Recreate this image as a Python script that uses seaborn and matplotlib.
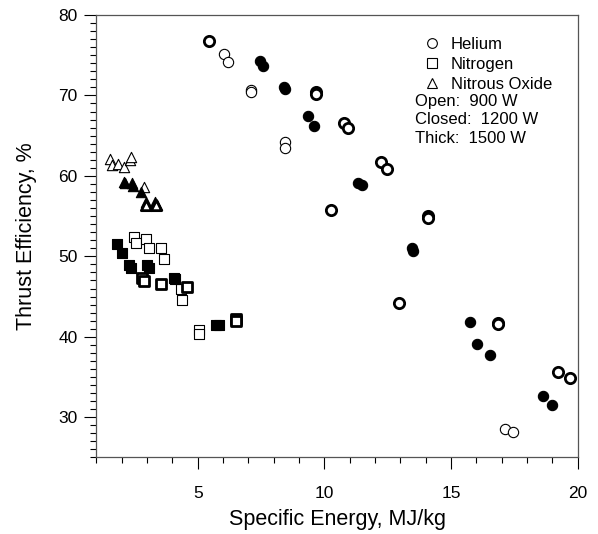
import matplotlib
matplotlib.use('Agg')

import matplotlib.pyplot as plt
from matplotlib.lines import Line2D
from matplotlib.ticker import MultipleLocator
import seaborn as sns

# ---- data: (specific energy MJ/kg, thrust efficiency %) ----
# Helium
he_900_x = [6.05, 6.19, 7.09, 7.09, 8.46, 8.46, 17.13, 17.45]
he_900_y = [75.2, 74.1, 70.7, 70.4, 64.2, 63.5, 28.6, 28.2]
he_1200_x = [7.44, 7.56, 8.42, 8.44, 9.36, 9.60, 11.32, 11.47, 13.46, 13.48,
             15.75, 16.04, 16.52, 18.63, 18.98]
he_1200_y = [74.3, 73.6, 71.1, 70.8, 67.4, 66.2, 59.1, 58.9, 51.0, 50.7,
             41.8, 39.1, 37.7, 32.7, 31.5]
he_1500_x = [5.45, 9.66, 9.68, 10.78, 10.93, 10.28, 12.25, 12.46, 14.09, 14.10,
             12.94, 16.85, 16.87, 19.21, 19.71]
he_1500_y = [76.8, 70.4, 70.2, 66.6, 66.0, 55.7, 61.7, 60.9, 55.0, 54.8,
             44.2, 41.7, 41.6, 35.6, 34.9]

# Nitrogen
n2_900_x = [2.50, 2.58, 2.97, 3.08, 3.57, 3.65, 4.34, 4.37, 5.05, 5.06]
n2_900_y = [52.4, 51.6, 52.1, 51.0, 51.0, 49.7, 45.9, 44.6, 40.8, 40.4]
n2_1200_x = [1.80, 2.00, 2.29, 2.36, 3.00, 3.07, 4.06, 4.12, 5.72, 5.84]
n2_1200_y = [51.5, 50.4, 48.9, 48.5, 48.9, 48.5, 47.3, 47.2, 41.5, 41.5]
n2_1500_x = [2.82, 2.87, 3.57, 4.57, 6.50, 6.52]
n2_1500_y = [47.3, 46.9, 46.6, 46.2, 42.2, 42.0]

# Nitrous oxide
n2o_900_x = [1.54, 1.62, 1.84, 2.09, 2.31, 2.37, 2.87]
n2o_900_y = [62.1, 61.4, 61.5, 61.1, 62.0, 62.4, 58.6]
n2o_1200_x = [2.09, 2.14, 2.39, 2.43, 2.78, 2.96, 3.33, 3.40]
n2o_1200_y = [59.3, 59.1, 59.1, 58.8, 58.0, 56.8, 56.8, 56.4]
n2o_1500_x = [2.96, 3.36]
n2o_1500_y = [56.4, 56.4]

sns.set_style('ticks')
plt.rcParams['font.family'] = ['Liberation Sans', 'DejaVu Sans']
plt.rcParams['text.color'] = 'black'
plt.rcParams['axes.labelcolor'] = 'black'
plt.rcParams['xtick.color'] = 'black'
plt.rcParams['ytick.color'] = 'black'

fig = plt.figure(figsize=(5.98, 5.34), dpi=100)
ax = fig.add_axes([0.1612, 0.1433, 0.8048, 0.8286])

groups = [
    (he_900_x, he_900_y, 'o', 'white', 0.8),
    (he_1200_x, he_1200_y, 'o', 'black', 0.8),
    (he_1500_x, he_1500_y, 'o', 'white', 2.0),
    (n2_900_x, n2_900_y, 's', 'white', 0.8),
    (n2_1200_x, n2_1200_y, 's', 'black', 0.8),
    (n2_1500_x, n2_1500_y, 's', 'white', 2.0),
    (n2o_900_x, n2o_900_y, '^', 'white', 0.8),
    (n2o_1200_x, n2o_1200_y, '^', 'black', 0.8),
    (n2o_1500_x, n2o_1500_y, '^', 'white', 2.0),
]
for gx, gy, mk, fc, lw in groups:
    sns.scatterplot(x=gx, y=gy, marker=mk, s=55, facecolor=fc,
                    edgecolor='black', linewidth=lw, ax=ax, zorder=3)

ax.set_xlim(1, 20)
ax.set_ylim(25, 80)
ax.xaxis.set_major_locator(MultipleLocator(5))
ax.xaxis.set_minor_locator(MultipleLocator(1))
ax.yaxis.set_major_locator(MultipleLocator(10))
ax.yaxis.set_minor_locator(MultipleLocator(1))
ax.tick_params(which='major', direction='out', length=8.6, width=0.8,
               labelsize=12.5, color='black', labelcolor='black')
ax.tick_params(which='minor', direction='out', length=4.3, width=0.8, color='black')
ax.tick_params(axis='x', which='major', pad=12)
ax.tick_params(axis='y', which='major', pad=5)
for sp in ax.spines.values():
    sp.set_visible(True)
    sp.set_color('#555555')
    sp.set_linewidth(0.9)

ax.set_xlabel('Specific Energy, MJ/kg', fontsize=15.5, labelpad=6, color='black')
ax.set_ylabel('Thrust Efficiency, %', fontsize=15.5, labelpad=15, color='black')

handles = [
    Line2D([], [], ls='none', marker='o', mfc='white', mec='black', mew=0.8, ms=7),
    Line2D([], [], ls='none', marker='s', mfc='white', mec='black', mew=0.8, ms=7),
    Line2D([], [], ls='none', marker='^', mfc='white', mec='black', mew=0.8, ms=7),
]
leg = ax.legend(handles, ['Helium', 'Nitrogen', 'Nitrous Oxide'], loc='upper left',
                bbox_to_anchor=(0.66, 0.97), frameon=False, fontsize=12,
                handlelength=1.2, handletextpad=0.5, labelspacing=0.3, borderpad=0)
for t in leg.get_texts():
    t.set_color('black')

ax.text(0.662, 0.804, 'Open:  900 W', transform=ax.transAxes, fontsize=12, va='center')
ax.text(0.662, 0.763, 'Closed:  1200 W', transform=ax.transAxes, fontsize=12, va='center')
ax.text(0.662, 0.722, 'Thick:  1500 W', transform=ax.transAxes, fontsize=12, va='center')

plt.savefig('out.png', dpi=100)
